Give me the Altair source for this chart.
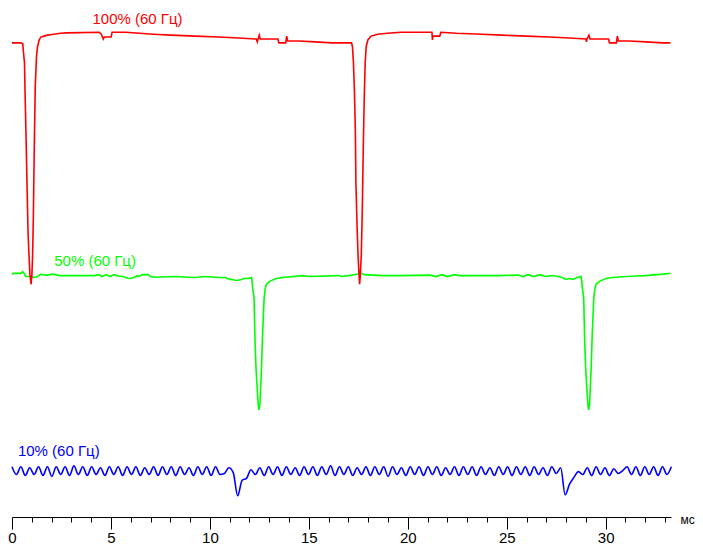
import altair as alt
import pandas as pd

FONT = "Liberation Sans"

# ---- red trace: 100% (60 Hz) ; time in ms, level in arbitrary units ----
red_t = [0.000, 0.446, 0.545, 0.580, 0.630, 0.659, 0.709, 0.759, 0.808, 0.858,
         0.907, 0.967, 1.006, 1.041, 1.076, 1.125, 1.175, 1.239, 1.289, 1.373,
         1.453, 1.621, 1.785, 2.117, 2.444, 2.776, 4.413, 4.512, 4.611, 4.660,
         5.007, 5.057, 5.751, 7.139, 8.032, 9.271, 10.461, 11.453, 12.296, 12.345,
         12.395, 12.494, 12.543, 13.436, 13.485, 13.832, 13.882, 13.932, 14.477, 15.320,
         16.163, 17.154, 17.204, 17.253, 17.303, 17.353, 17.377, 17.437, 17.486, 17.536,
         17.566, 17.601, 17.650, 17.700, 17.749, 17.799, 17.848, 17.898, 17.982, 18.146,
         18.478, 18.974, 19.633, 21.220, 21.244, 21.269, 21.616, 21.666, 22.459, 23.748,
         24.740, 25.979, 27.169, 28.161, 29.003, 29.028, 29.053, 29.152, 29.202, 30.144,
         30.193, 30.541, 30.590, 30.640, 31.185, 32.028, 32.871, 33.267]
red_v = [491, 491, 490, 481, 471, 441, 394, 344, 297, 271,
         251, 241, 251, 271, 307, 381, 446, 477, 487, 494,
         497, 498, 499, 500, 501, 501.3, 502, 500, 495, 497,
         497, 502, 502, 500, 499, 498, 497, 496, 495, 495,
         492, 499, 495, 495, 491, 491, 498, 493, 493, 492,
         491, 491, 487, 471, 441, 397, 347, 301, 271, 251,
         241, 251, 271, 317, 381, 434, 471, 487, 494, 498,
         500, 501, 502, 502, 494, 498, 498, 502, 501, 500,
         499, 498, 497, 496, 495, 492, 495, 499, 495, 495,
         491, 491, 498, 493, 493, 492, 491, 491]

# ---- green trace: 50% (60 Hz) ----
green_t = [0.000, 0.050, 0.446, 0.545, 0.645, 0.694, 0.892, 1.140, 1.289, 1.438,
           1.537, 1.785, 2.033, 2.429, 4.165, 4.363, 4.561, 4.760, 4.958, 5.156,
           5.354, 5.602, 5.850, 5.999, 6.148, 6.346, 6.396, 6.594, 6.891, 6.991,
           7.238, 8.230, 9.222, 9.717, 10.461, 10.808, 10.858, 11.354, 11.601, 11.701,
           11.948, 12.097, 12.122, 12.162, 12.231, 12.281, 12.330, 12.395, 12.444, 12.479,
           12.529, 12.558, 12.608, 12.658, 12.692, 12.742, 12.791, 12.856, 13.024, 13.352,
           13.684, 14.675, 15.022, 16.510, 16.658, 17.005, 17.402, 17.650, 17.799, 18.790,
           19.633, 21.121, 21.418, 21.716, 22.013, 22.360, 22.608, 24.591, 25.583, 25.830,
           26.078, 26.376, 26.673, 26.971, 27.318, 27.814, 27.963, 28.161, 28.359, 28.557,
           28.756, 28.780, 28.820, 28.889, 28.939, 28.989, 29.053, 29.103, 29.137, 29.187,
           29.217, 29.266, 29.316, 29.351, 29.400, 29.450, 29.515, 29.683, 30.010, 30.342,
           31.036, 31.532, 32.028, 32.524, 32.921, 33.267]
green_v = [251.3, 252.3, 252.3, 254, 251.3, 249, 249, 248, 249, 251.3,
           251, 250.5, 251.5, 250, 250, 251, 249, 251, 249, 251,
           249.5, 249, 247.3, 247, 248, 250, 249, 251, 251, 249,
           248.3, 249, 248, 249, 248, 248, 247, 245, 246, 247,
           247, 248, 246, 237, 227, 181, 154, 131, 116, 111,
           117, 131, 154, 187, 204, 227, 236, 241, 244, 247,
           248, 250, 249, 250, 249, 250, 251.3, 252.3, 251, 250,
           250, 250.5, 249, 251, 249, 251, 250, 250, 250.5, 249,
           251, 249, 251, 249, 250, 248, 246, 247, 246, 248,
           249, 246, 237, 227, 181, 154, 131, 116, 111, 117,
           131, 154, 187, 204, 227, 236, 241, 244, 247, 248,
           249, 249.5, 250, 251, 251.5, 252.5]

# ---- blue trace: 10% (60 Hz), sampled every half PWM period ----
BLUE_STEP_MS = 0.2236
blue_v = [52, 44, 52, 43, 51, 44, 52, 43, 52, 42, 52, 44, 52, 43, 53, 44, 52, 43, 52, 44,
          51, 43, 52, 44, 52, 43, 52, 44, 52, 43, 51, 44, 52, 43, 52, 44, 52, 43, 52, 44,
          51, 43, 52, 44, 52, 43, 52, 44, 45, 51, 46, 22, 38, 40, 49, 44, 51, 43, 52, 44,
          52, 43, 52, 44, 51, 43, 52, 44, 52, 43, 52, 44, 53, 43, 52, 44, 52, 43, 51, 44,
          52, 43, 52, 44, 52, 42, 52, 44, 51, 43, 52, 44, 52, 43, 52, 44, 52, 43, 51, 44,
          52, 43, 52, 44, 52, 43, 52, 44, 51, 43, 52, 44, 52, 43, 52, 44, 52, 43, 52, 44,
          51, 43, 52, 45, 51, 23, 34, 41, 47, 44, 51, 43, 52, 44, 51, 43, 50, 45, 48, 52,
          44, 52, 43, 52, 44, 52, 43, 52, 44, 52]
blue_t = [round(i * BLUE_STEP_MS, 4) for i in range(len(blue_v))]

# ---- labels ----
label_text = ["100% (60 Гц)", "50% (60 Гц)", "10% (60 Гц)"]
label_t = [4.065, 2.132, 0.297]
label_v = [511, 260, 63]
label_color = ["#ff0000", "#00ff00", "#0000ff"]

tick_values = list(range(0, 34))
X_MAX = 33.3
Y_MAX = 524

x_scale = alt.Scale(domain=[0, X_MAX], nice=False, zero=False)
y_scale = alt.Scale(domain=[0, Y_MAX], nice=False, zero=False)

x_axis = alt.Axis(
    values=tick_values,
    tickSize={"condition": {"test": "datum.value % 5 === 0", "value": 12}, "value": 5},
    labelExpr="datum.value % 5 === 0 ? datum.label : ''",
    grid=False, domainColor="black", domainWidth=1, tickColor="black", tickWidth=1,
    labelColor="black", labelFont=FONT, labelFontSize=15, labelPadding=1,
    labelFlush=False, labelOverlap=False,
    title="мс", titleX=668, titleY=6, titleAlign="left", titleBaseline="alphabetic",
    titleAngle=0, titleFont=FONT, titleFontSize=12, titleFontWeight="normal",
    titleColor="black",
)


def trace(t, v, color, interp="linear"):
    df = pd.DataFrame({"t": t, "v": v})
    return alt.Chart(df).mark_line(color=color, strokeWidth=1.6, interpolate=interp).encode(
        x=alt.X("t:Q", scale=x_scale, axis=x_axis),
        y=alt.Y("v:Q", scale=y_scale, axis=None),
        order="t:Q",
    )


blue = trace(blue_t, blue_v, "#0000ff", "monotone")
green = trace(green_t, green_v, "#00ff00")
red = trace(red_t, red_v, "#ff0000")

lab_df = pd.DataFrame({"t": label_t, "v": label_v, "text": label_text, "c": label_color})
labels = alt.Chart(lab_df).mark_text(
    align="left", baseline="alphabetic", font=FONT, fontSize=15
).encode(
    x=alt.X("t:Q", scale=x_scale, axis=x_axis),
    y=alt.Y("v:Q", scale=y_scale, axis=None),
    text="text:N",
    color=alt.Color("c:N", scale=None),
)

chart = alt.layer(blue, green, red, labels).properties(
    width=659, height=506,
    autosize=alt.AutoSizeParams(type="none"),
    padding={"left": 4, "right": 24, "top": 3, "bottom": 27},
    background="white",
).configure_view(stroke=None)

chart.save("out.html", embed_options={"renderer": "svg", "actions": False})
